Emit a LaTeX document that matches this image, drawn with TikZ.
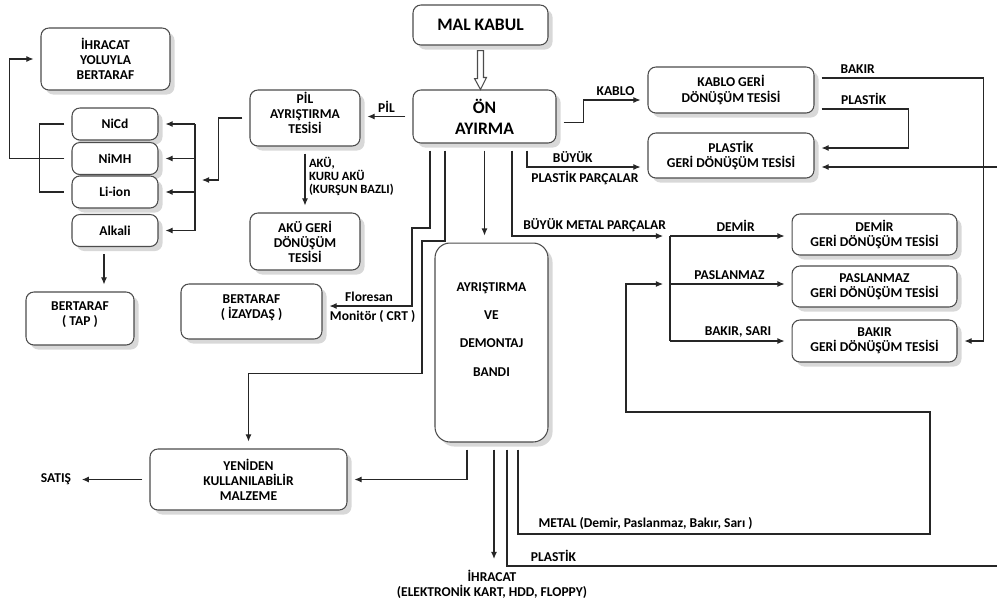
\documentclass[tikz,border=0pt]{standalone}
\usepackage{fontspec}
\setmainfont{Carlito}
\usetikzlibrary{arrows.meta,shadows,calc}

\begin{document}
\begin{tikzpicture}[x = 0.02cm, y = -0.02cm,
box/.style 2 args = {draw = black!70, line width = 0.6pt, fill = white, rounded corners = 4.5pt,
    align = center, inner sep = 1pt, minimum width = #1, minimum height = #2,
    font = \bfseries\fontsize{7.7}{8.6}\selectfont,
    drop shadow = {shadow xshift = 2.6pt, shadow yshift = -2.6pt, fill = black!30}},
lbl/.style = {font = \bfseries\fontsize{7.7}{8.6}\selectfont, inner sep = 2pt},
conn/.style = {draw = black!85, line width = 0.6pt, shorten <=0.14cm, shorten >=0.14cm},
arr/.style = {conn, -{Latex[length = 4pt, width = 3.4pt]}}]
\useasboundingbox (0,0) rectangle (997,603);
\clip (0,0) rectangle (997,603);

\node[box = {2.7cm}{0.8cm}, font = \bfseries\fontsize{10}{12}\selectfont] (mal) at (480.5,25) {MAL KABUL};
\node[box = {2.86cm}{1.06cm}, font = \bfseries\fontsize{10}{12}\selectfont] (on) at (484.5,116.5) {ÖN\\AYIRMA};
\node[box = {2.58cm}{1.24cm}] (ihr) at (105.5,59) {İHRACAT\\YOLUYLA\\BERTARAF};
\node[box = {1.72cm}{0.64cm}] (nicd) at (115,124) {NiCd};
\node[box = {1.72cm}{0.64cm}] (nimh) at (115,158.5) {NiMH};
\node[box = {1.72cm}{0.64cm}] (liion) at (115,192) {Li-ion};
\node[box = {1.72cm}{0.64cm}] (alk) at (115,230.5) {Alkali};
\node[box = {2.16cm}{1.06cm}, text depth = 0.2cm] (tap) at (80,318.5) {BERTARAF\\( TAP )};
\node[box = {2.2cm}{1.12cm}, text depth = 0.2cm] (pil) at (305,118) {PİL\\AYRIŞTIRMA\\TESİSİ};
\node[box = {2.2cm}{1.14cm}] (aku) at (305,241.5) {AKÜ GERİ\\DÖNÜŞÜM\\TESİSİ};
\node[box = {2.82cm}{1.1cm}, text depth = 0.2cm] (iza) at (251.5,311.5) {BERTARAF\\( İZAYDAŞ )};
\node[box = {2.26cm}{3.98cm}, rounded corners = 8.5pt, text depth = 0.53cm] (band) at (491.5,342.5)
    {AYRIŞTIRMA\\[7.5pt]VE\\[7.5pt]DEMONTAJ\\[7.5pt]BANDI};
\node[box = {3.94cm}{1.22cm}] (yen) at (248.5,479.5) {YENİDEN\\KULLANILABİLİR\\MALZEME};
\node[box = {3.32cm}{0.92cm}] (kablo) at (731,90) {KABLO GERİ\\DÖNÜŞÜM TESİSİ};
\node[box = {3.32cm}{0.9cm}] (plastik) at (731,155.5) {PLASTİK\\GERİ DÖNÜŞÜM TESİSİ};
\node[box = {3.3cm}{0.82cm}] (demir) at (874.5,234.5) {DEMİR\\GERİ DÖNÜŞÜM TESİSİ};
\node[box = {3.3cm}{0.82cm}] (pasl) at (874.5,286.5) {PASLANMAZ\\GERİ DÖNÜŞÜM TESİSİ};
\node[box = {3.3cm}{0.84cm}] (bakir) at (874.5,341) {BAKIR\\GERİ DÖNÜŞÜM TESİSİ};
\node[lbl] (satis) at (56,479.5) {SATIŞ};
\node[lbl, align = center] (ihrx) at (492,584) {İHRACAT\\(ELEKTRONİK KART, HDD, FLOPPY)};

\coordinate (pbus) at (195,180);
\coordinate (mtop) at (670,236);
\coordinate (mbus) at (670,284);
\coordinate (fbend) at (412,228);
\coordinate (rbend) at (422,241);
\path (yen.north) ++(0,-75) coordinate (rtop);
\coordinate (mloop) at (930,534);
\coordinate (mback) at (626,412);
\coordinate (ploop) at (1005,566);

\draw[draw = black!70, line width = 0.6pt, fill = white] ($(mal.south)+(-3,5)$) -- ++(0,28) -- ++(-3,0)
    -- (mal.south |- on.north) -- ++(6,-12) -- ++(-3,0) -- ($(mal.south)+(3,5)$) -- cycle;

\draw[arr] (on.west) -- node[lbl, above] {PİL} (on.west -| pil.east);
\draw[arr] (pil.south) -- node[lbl, right, align = left, pos = 0.45, font = \bfseries\fontsize{7.2}{7.5}\selectfont]
    {AKÜ,\\KURU AKÜ\\(KURŞUN BAZLI)} (aku.north);
\draw[arr] (pil.west) -- ++(-31,0) |- (pbus);
\draw[conn, shorten <=0pt, shorten >=0pt] (pbus |- nicd.east) -- (pbus |- alk.east);
\foreach \b in {nicd,nimh,liion,alk}
    \draw[arr, shorten <=0pt] (pbus |- \b.east) -- (\b.east);
\draw[conn] (nicd.west) -- ++(-32,0) |- (liion.west);
\draw[arr] (nimh.west) -- ++(-62,0) |- (ihr.west);
\draw[arr] ([xshift = -0.22cm]alk.south) -- ([xshift = -0.22cm]alk.south |- tap.north);

\draw[arr] ([yshift = -0.12cm]on.east) -- ++(27,0) |- node[lbl, above, pos = 0.75] {KABLO} ([yshift = -0.2cm]kablo.west);
\draw[arr] ([yshift = 0.24cm]kablo.east) -- node[lbl, above right, pos = 0.13] {BAKIR} ++(169,0) |- (bakir.east);
\draw[arr] ([yshift = -0.38cm]kablo.east) -- node[lbl, above right, pos = 0.24] {PLASTİK} ++(94,0) |- ([yshift = 0.15cm]plastik.east);
\draw[arr] ([xshift = 0.85cm]on.south) |- node[lbl, above, pos = 0.69] {BÜYÜK}
    node[lbl, below, pos = 0.74] {PLASTİK PARÇALAR} ([yshift = -0.23cm]plastik.west);

\draw[arr] ([xshift = 0.55cm]on.south) |- node[lbl, above left, pos = 1] {BÜYÜK METAL PARÇALAR} (mtop);
\draw[conn, shorten <=0pt, shorten >=0pt] (mtop) -- (mtop |- bakir.west);
\draw[arr, shorten <=0pt] (mtop) -- node[lbl, above, pos = 0.54] {DEMİR} (mtop -| demir.west);
\draw[arr, shorten <=0pt] (mbus) -- node[lbl, above, pos = 0.49] {PASLANMAZ} (mbus -| pasl.west);
\draw[arr, shorten <=0pt] (mtop |- bakir.west) -- node[lbl, above, pos = 0.56] {BAKIR, SARI} (bakir.west);

\draw[arr] (on.south) -- (on.south |- band.north);
\draw[arr] ([xshift = -1.09cm]on.south) |- (fbend) |- node[lbl, above, pos = 0.74] {Floresan}
    node[lbl, below, pos = 0.72] {Monitör ( CRT )} ([yshift = 0.11cm]iza.east);
\draw[arr] ([xshift = -0.79cm]on.south) |- (rbend) |- (rtop) -- (yen.north);

\draw[arr] ([xshift = -0.49cm]band.south) |- (yen.east);
\draw[arr] (yen.west) -- (satis.east);
\draw[arr] ([xshift = 0.05cm]band.south) -- ([xshift = 0.05cm]band.south |- ihrx.north);
\draw[arr] ([xshift = 0.31cm]band.south) |- node[lbl, above right, pos = 0.52] {PLASTİK} (ploop) |- ([yshift = -0.23cm]plastik.east);
\draw[arr] ([xshift = 0.53cm]band.south) |- node[lbl, above right, pos = 0.52] {METAL (Demir, Paslanmaz, Bakır, Sarı )}
    (mloop) |- (mback) |- (mbus);
\end{tikzpicture}
\end{document}
